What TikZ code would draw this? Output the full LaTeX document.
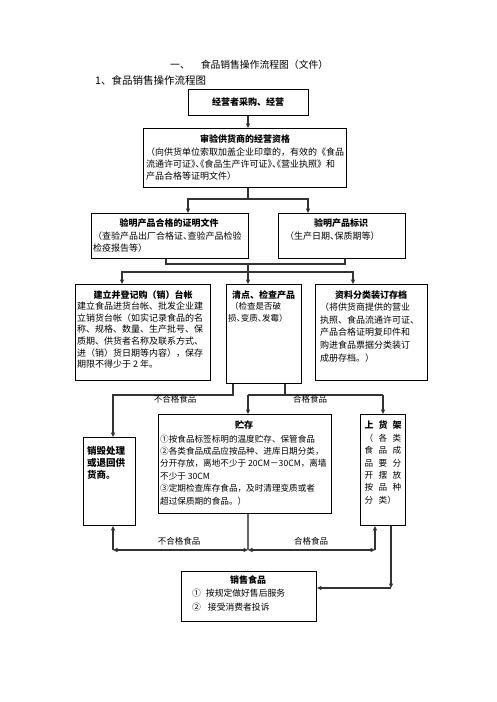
\documentclass[tikz,border=0pt]{standalone}
\usepackage{fontspec}
\setmainfont{Noto Sans CJK SC}
\newfontfamily\hw{Noto Sans CJK SC}[RawFeature=+halt]
\usetikzlibrary{arrows.meta,calc}
\newcommand\trip[3]{\makebox[14pt][l]{#1}\makebox[14pt][l]{#2}#3}
\begin{document}
\begin{tikzpicture}[x=1pt,y=-1pt,
  box/.style={draw=black,line width=0.9pt,inner sep=0pt,anchor=north west},
  conn/.style={draw=black!80,line width=1.2pt},
  arr/.style={conn,-{Triangle[length=4.5pt,width=4pt]}},
  darr/.style={conn,{Triangle[length=4.5pt,width=4pt]}-{Triangle[length=4.5pt,width=4pt]}},
  ttl/.style={font=\fontsize{9}{11}\selectfont\bfseries,inner sep=0pt},
  body/.style={font=\fontsize{9}{11.7}\selectfont,inner sep=0pt,align=left,anchor=north west},
  lbl/.style={font=\fontsize{8.5}{10}\selectfont,inner sep=0pt}]
\fill[white] (0,0) rectangle (496,702);
\useasboundingbox (0,0) rectangle (496,702);

% headings
\node[font=\fontsize{9.8}{11}\selectfont,anchor=west,inner sep=0pt] (h0) at (170,65) {一、\hspace{11pt}食品销售操作流程图（文件）};
\node[font=\fontsize{10.5}{12}\selectfont,anchor=west,inner sep=0pt] (h1) at (95,80) {1、食品销售操作流程图};

% boxes
\node[box,minimum width=120pt,minimum height=26pt] (b1) at (188,89) {};
\node[box,minimum width=203pt,minimum height=59pt] (b2) at (143,128) {};
\node[box,minimum width=157pt,minimum height=45pt] (b3a) at (91,213) {};
\node[box,minimum width=127pt,minimum height=45pt] (b3b) at (278,213) {};
\node[box,minimum width=135pt,minimum height=96pt] (b4a) at (75,284) {};
\node[box,minimum width=75pt,minimum height=99pt] (b4b) at (226,284) {};
\node[box,minimum width=112pt,minimum height=96pt] (b4c) at (315,284) {};
\node[box,minimum width=52pt,minimum height=88pt] (b5) at (83,437) {};
\node[box,minimum width=173pt,minimum height=99pt] (b6) at (158,414) {};
\node[box,minimum width=45pt,minimum height=111pt] (b7) at (360,414) {};
\node[box,minimum width=135pt,minimum height=50pt] (b8) at (181,571) {};

% texts
\node[ttl] (b1t) at (248,102) {经营者采购、经营};

\node[ttl] (b2h) at (245,139) {审验供货商的经营资格};
\node[body,font=\fontsize{9}{12}\selectfont] (b2t) at (146,147.5) {（向供货单位索取加盖企业印章的，有效的《食品\\流通许可证{\hw 》、《}食品生产许可证{\hw 》、《}营业执照》和\\产品合格等证明文件）};

\node[ttl] (b3ah) at (169,223) {验明产品合格的证明文件};
\node[body,font=\fontsize{9}{12}\selectfont] (b3at) at (93,231.5) {（查验产品出厂合格证{\hw 、}查验产品检验\\检疫报告等）};

\node[ttl] (b3bh) at (341,223) {验明产品标识};
\node[body] (b3bt) at (285,231.5) {（生产日期{\hw 、}保质期等）};

\node[ttl] (b4ah) at (143,295) {建立并登记购（销）台帐};
\node[body] (b4at) at (77,301.5) {建立食品进货台帐、批发企业建\\立销货台帐（如实记录食品的名\\称、规格、数量、生产批号、保\\质期、供货者名称及联系方式、\\进（销）货日期等内容），保存\\期限不得少于 2 年。};

\node[ttl] (b4bh) at (263.5,295) {清点、检查产品};
\node[body,font=\fontsize{8.5}{12}\selectfont] (b4bt) at (228,301.8) {\hspace{2pt}（检查是否破\\损{\hw 、}变质{\hw 、}发霉）};

\node[ttl] (b4ch) at (371,295) {资料分类装订存档};
\node[body,font=\fontsize{9}{12.7}\selectfont] (b4ct) at (320,302.5) {（将供货商提供的营业\\执照、食品流通许可证、\\产品合格证明复印件和\\购进食品票据分类装订\\成册存档。）};

\node[body,font=\fontsize{9.5}{12}\selectfont\bfseries] (b5t) at (87,446.3) {销毁处理\\或退回供\\货商。};

\node[ttl] (b6h) at (244,425) {贮存};
\node[body,font=\fontsize{8.6}{12.4}\selectfont] (b6t) at (160,434.7) {①按食品标签标明的温度贮存、保管食品\\②各类食品成品应按品种、进库日期分类，\\分开存放，离地不少于 20CM－30CM，离墙\\不少于 30CM\\③定期检查库存食品，及时清理变质或者\\超过保质期的食品。）};

\node[ttl,anchor=west] (b7h) at (364.5,425) {\trip{上}{货}{架}};
\node[body,font=\fontsize{8.6}{12.4}\selectfont] (b7t) at (364.5,433.7) {\trip{（}{各}{类}\\\trip{食}{品}{成}\\\trip{品}{要}{分}\\\trip{开}{摆}{放}\\\trip{按}{品}{种}\\\makebox[14pt][l]{分}类）};

\node[ttl] (b8h) at (248,580) {销售食品};
\node[body,font=\fontsize{8.8}{14}\selectfont] (b8t) at (192,588.6) {①\hspace{5pt}按规定做好售后服务\\②\hspace{7pt}接受消费者投诉};

% connector coordinates
\coordinate (x188) at (188,0);
\coordinate (x308) at (308,0);
\coordinate (x166) at (166,0);
\coordinate (x345) at (345,0);
\coordinate (x122) at (122,0);
\coordinate (x353) at (353,0);
\coordinate (x233) at (233,0);
\coordinate (x285) at (285,0);
\coordinate (j0) at (248,0);
\coordinate (j1) at (248,199);
\coordinate (j2) at (248,264);
\coordinate (j3) at (248,272);
\coordinate (j4) at (113,395);
\coordinate (j5) at (248,395);
\coordinate (j6) at (383,395);
\coordinate (j7) at (248,550);
\coordinate (j8) at (113,550);
\coordinate (j9) at (375,550);
\coordinate (j10) at (391,588);

% connectors
\draw[arr] (b1.south -| j0) -- (b2.north -| j0);
\draw[conn] (b2.south -| j1) -- (j1);
\draw[arr] (j1) -| (b3a.north -| x188);
\draw[arr] (j1) -| (b3b.north -| x308);

\draw[conn] (b3a.south -| x166) |- (j2) -| (b3b.south -| x345);
\draw[conn] (j2) -- (j3);
\draw[arr] (j3) -| (b4a.north -| x122);
\draw[arr] (j3) -- (b4b.north -| j3);
\draw[arr] (j3) -| (b4c.north -| x353);

\draw[arr] (b4b.south -| x233) |- (j4) -- (b5.north -| j4);
\draw[conn] (b4b.south -| x285) -- (j5 -| x285);
\draw[conn] (j5) -- (j6);
\draw[arr] (j5) -- (b6.north -| j5);
\draw[arr] (j6) -- (b7.north -| j6);
\node[lbl] (l1) at (175,399.5) {不合格食品};
\node[lbl] (l2) at (310,399.5) {合格食品};

\draw[conn,draw=black!60] (b6.south -| j7) -- (j7);
\draw[darr] (j8) -- (j7);
\draw[darr] (j7) -- (j9);
\draw[arr] (j8) -- (b5.south -| j8);
\draw[arr] (j9) -- (b7.south -| j9);
\node[lbl] (l3) at (179,541) {不合格食品};
\node[lbl] (l4) at (311,541) {合格食品};

\draw[arr] (b7.south -| j10) -- (j10);
\draw[arr] (j10) -- (b8.east |- j10);
\end{tikzpicture}
\end{document}
